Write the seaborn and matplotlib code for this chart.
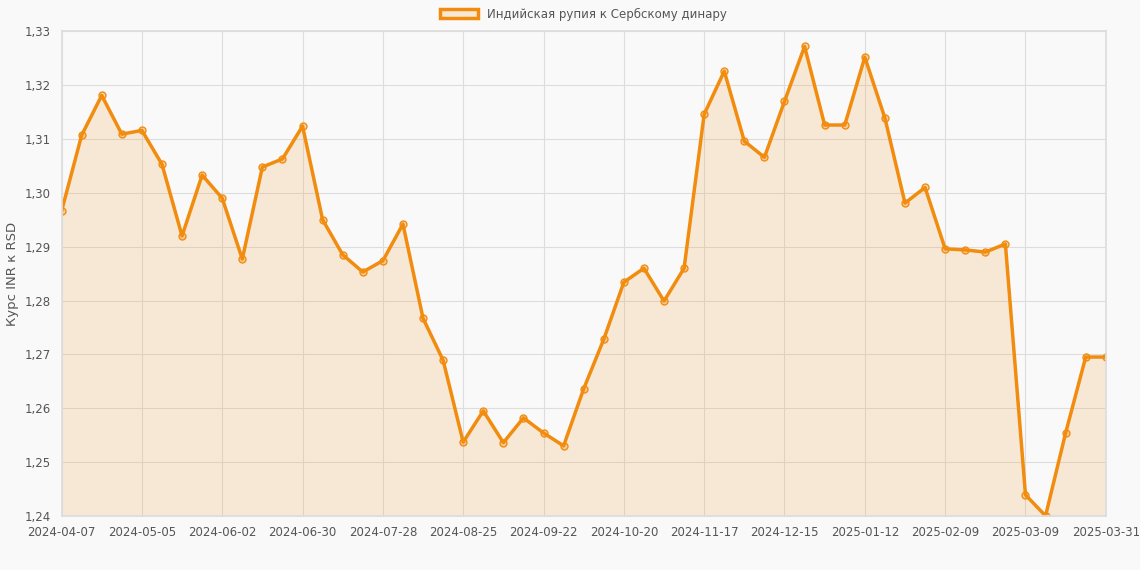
import matplotlib
matplotlib.use("Agg")
import matplotlib.pyplot as plt
import seaborn as sns
import pandas as pd
from matplotlib.patches import Patch
from matplotlib.ticker import FuncFormatter

dates = [d.strftime("%Y-%m-%d") for d in pd.date_range("2024-04-07", periods=52, freq="7D")] + ["2025-03-31"]
values = [1.2966, 1.3107, 1.3181, 1.3109, 1.3116, 1.3053, 1.2920, 1.3033, 1.2990, 1.2877,
          1.3048, 1.3063, 1.3124, 1.2950, 1.2885, 1.2853, 1.2874, 1.2942, 1.2767, 1.2689,
          1.2537, 1.2595, 1.2536, 1.2582, 1.2554, 1.2530, 1.2636, 1.2728, 1.2834, 1.2860,
          1.2799, 1.2860, 1.3146, 1.3226, 1.3096, 1.3066, 1.3170, 1.3272, 1.3126, 1.3126,
          1.3252, 1.3139, 1.2981, 1.3010, 1.2896, 1.2894, 1.2890, 1.2905, 1.2439, 1.2400,
          1.2554, 1.2695, 1.2695]
label = "Индийская рупия к Сербскому динару"

sns.set_theme(style="whitegrid")
plt.rcParams['font.family'] = ['DejaVu Sans']
color = "#F28C0F"
df = pd.DataFrame({"i": range(len(values)), "v": values})

fig, ax = plt.subplots(figsize=(11.4, 5.7), dpi=100)
fig.patch.set_facecolor("#f9f9f9")
ax.set_facecolor("#f9f9f9")
ax.fill_between(df["i"], 1.24, df["v"], color=color, alpha=0.15, linewidth=0)
sns.lineplot(data=df, x="i", y="v", ax=ax, color=color, linewidth=2.5,
             marker="o", markersize=5, markerfacecolor=(0.95, 0.55, 0.06, 0.3),
             markeredgecolor=color, markeredgewidth=1)
ax.set_xlim(0, len(values) - 1)
ax.set_ylim(1.24, 1.33)
ticks = list(range(0, len(values) - 1, 4)) + [len(values) - 1]
ax.set_xticks(ticks)
ax.set_xticklabels([dates[t] for t in ticks])
ax.set_yticks([1.24 + 0.01 * k for k in range(10)])
ax.yaxis.set_major_formatter(FuncFormatter(lambda y, p: f"{y:.2f}".replace(".", ",")))
ax.tick_params(labelsize=8.5, colors="#555555", length=4)
ax.grid(color="#dddddd", linewidth=0.8)
for s in ax.spines.values():
    s.set_color("#dddddd")
ax.set_xlabel("")
ax.set_ylabel("Курс INR к RSD", fontsize=9.5, color="#555555")
ax.legend(handles=[Patch(facecolor=(0.95, 0.55, 0.06, 0.15), edgecolor=color, linewidth=2.5, label=label)],
          loc="lower center", bbox_to_anchor=(0.5, 1.0), frameon=False, fontsize=8.5,
          handlelength=3.2, labelcolor="#555555")
fig.subplots_adjust(left=0.054, right=0.97, top=0.945, bottom=0.095)
fig.savefig("out.png", dpi=100, facecolor=fig.get_facecolor())
